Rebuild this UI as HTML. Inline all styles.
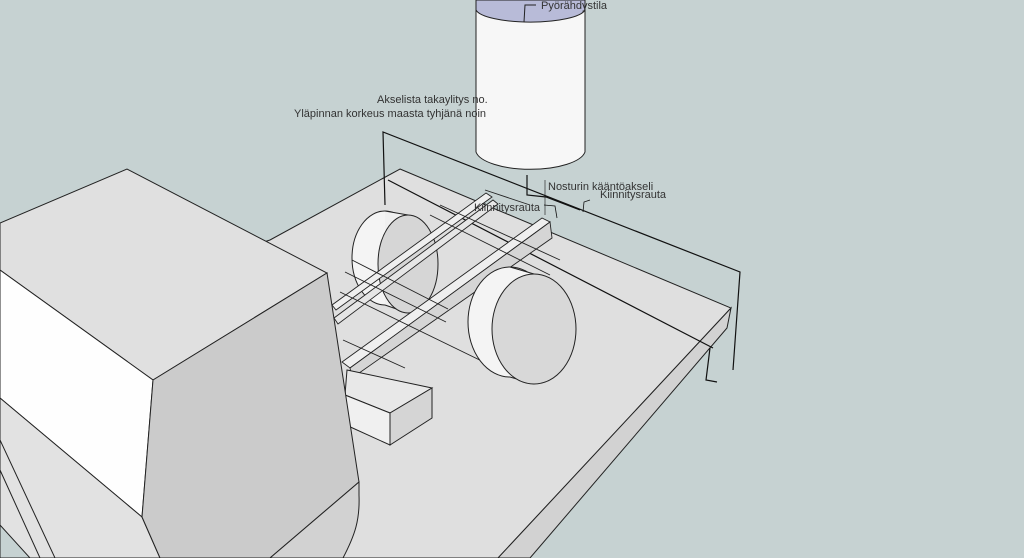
<!DOCTYPE html>
<html><head><meta charset="utf-8"><style>
html,body{margin:0;padding:0;background:#c6d2d2;}
svg{display:block}
text{font-family:"Liberation Sans","DejaVu Sans",sans-serif;font-size:11px;fill:#333}
</style></head><body>
<svg width="1024" height="558" viewBox="0 0 1024 558" xmlns="http://www.w3.org/2000/svg">
<rect width="1024" height="558" fill="#c6d2d2"/>
<!-- platform -->
<polygon points="400,169 731,308 498,558 0,558 0,330 270,240" fill="#dfdfdf" stroke="#222" stroke-width="1"/>
<polygon points="731,308 727,328 530,558 498,558" fill="#d2d2d2" stroke="#222" stroke-width="1"/>
<!-- dimension frame -->
<g stroke="#111" stroke-width="1.2" fill="none">
<polyline points="385,205 383,132 740,272 733,370"/>
<polyline points="388,180 713,348"/>
<polyline points="710,348 706,380 717,382"/>
<polyline points="527,175 527,195 546,197 580,210"/>
<line x1="545" y1="215" x2="545" y2="180" stroke-width="0.6"/>
<polyline points="590,200 584,202 583,212" stroke-width="0.8"/>
<polyline points="544,205 555,206 557,218" stroke-width="0.8"/>
</g>
<!-- left wheel -->
<ellipse cx="385" cy="258" rx="33" ry="47" fill="#f4f4f4" stroke="#222"/>
<polygon points="385,211 408,215 408,313 385,305" fill="#f0f0f0"/>
<line x1="385" y1="211" x2="408" y2="215" stroke="#222"/>
<line x1="385" y1="305" x2="408" y2="313" stroke="#222"/>
<ellipse cx="408" cy="264" rx="30" ry="49" fill="#d6d6d6" stroke="#222"/>
<!-- rails -->
<g stroke="#222" stroke-width="0.9">
<polygon points="486,193 492,197 336,310 332,305" fill="#efefef"/>
<polygon points="493,200 498,204 338,324 334,318" fill="#e6e6e6"/>
<polygon points="542,218 550,222 350,368 342,362" fill="#efefef"/>
<polygon points="550,222 552,238 352,378 350,368" fill="#d5d5d5"/>
<line x1="485" y1="190" x2="530" y2="205"/>
<line x1="345" y1="272" x2="446" y2="322"/>
<line x1="340" y1="292" x2="492" y2="366"/>
<line x1="343" y1="340" x2="405" y2="368"/>
<line x1="352" y1="260" x2="448" y2="309"/>
<line x1="430" y1="215" x2="550" y2="275"/>
<line x1="440" y1="205" x2="560" y2="260"/>
</g>
<!-- right wheel -->
<ellipse cx="510" cy="322" rx="42" ry="55" fill="#f4f4f4" stroke="#222"/>
<polygon points="510,267 534,274 534,384 510,377" fill="#f4f4f4"/>
<line x1="510" y1="267" x2="534" y2="274" stroke="#222"/>
<line x1="510" y1="377" x2="534" y2="384" stroke="#222"/>
<ellipse cx="534" cy="329" rx="42" ry="55" fill="#d8d8d8" stroke="#222"/>
<!-- small block -->
<polygon points="347,370 432,388 390,413 345,395" fill="#e8e8e8" stroke="#222"/>
<polygon points="345,395 390,413 390,445 346,425" fill="#f0f0f0" stroke="#222"/>
<polygon points="390,413 432,388 432,418 390,445" fill="#d5d5d5" stroke="#222"/>
<!-- truck -->
<polygon points="0,223 127,169 327,273 153,380 0,270" fill="#e0e0e0" stroke="#222"/>
<polygon points="0,270 153,380 142,517 0,398" fill="#fefefe" stroke="#222"/>
<polygon points="0,398 142,517 160,558 0,558" fill="#e2e2e2" stroke="#222"/>
<polygon points="153,380 327,273 359,482 270,558 160,558 142,517" fill="#cbcbcb" stroke="#222"/>
<path d="M359,482 L270,558 L343,558 C355,535 360,520 359,495 Z" fill="#d2d2d2" stroke="#222"/>
<line x1="0" y1="440" x2="55" y2="558" stroke="#222"/>
<line x1="0" y1="470" x2="40" y2="558" stroke="#222"/>
<polygon points="0,525 0,558 30,558" fill="#c6d2d2" stroke="#222"/>
<!-- cylinder -->
<path d="M476,10 L476,152 A55,20 0 0 0 585,152 L585,10 Z" fill="#f7f7f7" stroke="#222"/>
<path d="M476,10 A55,14 0 0 0 585,10 L585,0 L476,0 Z" fill="#b8bbd8" stroke="#222"/>
<polyline points="524,22 525,5 536,5" fill="none" stroke="#222"/>
<!-- labels -->
<text x="541" y="9">Pyörähdystila</text>
<text x="377" y="103">Akselista takaylitys no.</text>
<text x="294" y="117">Yläpinnan korkeus maasta tyhjänä noin</text>
<text x="548" y="190">Nosturin kääntöakseli</text>
<text x="600" y="198">Kiinnitysrauta</text>
<text x="474" y="211">Kiinnitysrauta</text>
</svg>
</body></html>
